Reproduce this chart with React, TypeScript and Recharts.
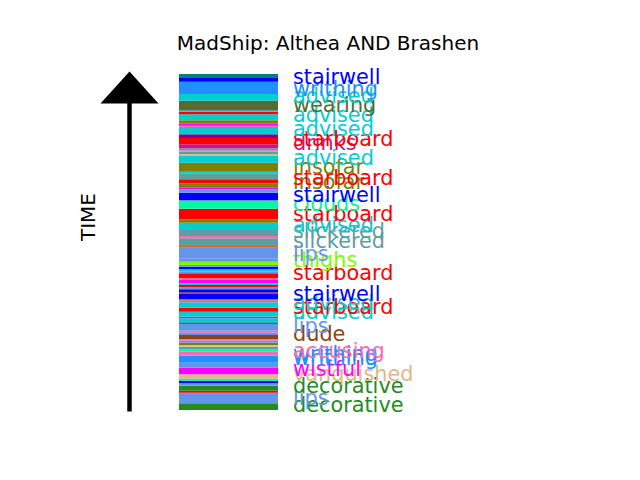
import { BarChart, Bar, XAxis, YAxis } from 'recharts'

// Stripes read from the top of the column (latest) down to the bottom (earliest)
const stripeColors = [
  '#008080', '#0000ff', '#1e90ff', '#00ced1', '#556b2f',
  '#5f9ea0', '#ff0000', '#00ced1', '#808000', '#ff00ff', '#ff69b4', '#00ced1',
  '#8b008b', '#ff0000', '#c71585',
  '#5f9ea0', '#da70d6', '#5f9ea0', '#deb887', '#00ced1',
  '#808000', '#00ced1', '#5f9ea0', '#ff0000', '#808000',
  '#ff00ff', '#6495ed', '#0000ff', '#6495ed', '#00fa9a', '#ff0000',
  '#808000', '#00ced1', '#5f9ea0', '#ff69b4', '#5f9ea0', '#d2691e', '#6495ed', '#6495ed',
  '#7cfc00', '#6495ed', '#0000ff', '#00ced1', '#6495ed', '#ff0000',
  '#ff69b4', '#ff00ff', '#00ced1', '#ff0000', '#6495ed', '#0000ff', '#a52a2a', '#0000ff',
  '#d2691e', '#6495ed', '#00ced1', '#ff0000', '#00ced1', '#ff00ff', '#00ced1', '#008b8b',
  '#6495ed', '#ff69b4', '#6495ed', '#8b4513', '#ff69b4', '#6495ed',
  '#808000', '#deb887', '#5f9ea0', '#00fa9a', '#ff69b4', '#1e90ff', '#1e90ff',
  '#6495ed', '#ff00ff', '#deb887', '#00fa9a', '#0000ff', '#6495ed',
  '#228b22', '#ff0000', '#00ced1', '#6495ed', '#228b22'
]

const stripeLengths = [
  3.3, 4.4, 12.3, 6.7, 9.3,
  1.7, 2.6, 6, 3.4, 2, 1.3, 7.3,
  3.7, 6.3, 4,
  2, 1.2, 2.5, 2, 6.7,
  9, 1.6, 6, 4, 4,
  2, 3.4, 7.3, 1.7, 7, 10.6,
  3.4, 7.3, 6, 2.3, 7.7, 1.7, 11, 3,
  3.3, 1.7, 2.3, 2.7, 1.6, 5,
  1.7, 3.3, 1.7, 2.3, 2, 3, 1.4, 5.3,
  1.7, 2, 5, 4, 5, 1.6, 4, 1.7,
  6.7, 2, 2.3, 4.3, 1.4, 2,
  2.3, 1.7, 2.6, 2.4, 4, 3.3, 3.7,
  5, 6.6, 4.4, 2, 2.6, 2.4,
  5, 2, 1.3, 9.3, 6.7
]

const stripeLabels = [
  '', 'stairwell', 'writhing', 'advised', 'wearing',
  '', '', 'advised', '', '', '', 'advised',
  '', 'starboard', 'drinks',
  '', '', '', '', 'advised',
  'insofar', '', '', 'starboard', 'insofar',
  '', '', 'stairwell', '', 'clouds', 'starboard',
  '', 'advised', 'slickered', '', 'slickered', '', 'lips', '',
  'thighs', '', '', '', '', 'starboard',
  '', '', '', '', '', '', '', 'stairwell',
  '', '', 'advised', 'starboard', 'advised', '', '', '',
  'lips', '', '', 'dude', '', '',
  '', '', '', '', 'accusing', 'writhing', 'writhing',
  '', 'wistful', 'vanquished', '', '', '',
  'decorative', '', '', 'lips', 'decorative'
]

const chartTitle = 'MadShip: Althea AND Brashen'
const axisTitle = 'TIME'

// earliest first, so the stack grows upwards like time
const order = stripeColors.map((_, i) => stripeColors.length - 1 - i)
const row: Record<string, number | string> = { name: 'events' }
order.forEach(i => {
  row[`s${i}`] = stripeLengths[i]
})
const total = stripeLengths.reduce((a, b) => a + b, 0)

const FONT = "'DejaVu Sans', sans-serif"

const wordLabel = (word: string, color: string) => (props: any) => {
  const x = Number(props.x) + Number(props.width) + 15
  const y = Math.max(Number(props.y), Number(props.y) + Number(props.height)) + 2
  return (
    <text x={x} y={y} fill={color} fontSize={20.8} fontFamily={FONT}>
      {word}
    </text>
  )
}

export default function App() {
  return (
    <div style={{ position: 'absolute', left: 0, top: 0, width: 640, height: 480, background: '#fff' }}>
      <BarChart
        width={640}
        height={480}
        data={[row]}
        margin={{ top: 74, right: 362, bottom: 70, left: 179 }}
        barCategoryGap={0}
      >
        <XAxis dataKey='name' hide />
        <YAxis type='number' hide domain={[0, total]} allowDataOverflow />
        {order.map(i => (
          <Bar
            key={i}
            dataKey={`s${i}`}
            stackId='t'
            fill={stripeColors[i]}
            isAnimationActive={false}
            label={stripeLabels[i] ? wordLabel(stripeLabels[i], stripeColors[i]) : false}
          />
        ))}
      </BarChart>
      <svg
        width={640}
        height={480}
        style={{ position: 'absolute', left: 0, top: 0, pointerEvents: 'none' }}
      >
        <text x={328} y={50} textAnchor='middle' fontSize={20} fontFamily={FONT} fill='#000'>
          {chartTitle}
        </text>
        <line x1={129.5} y1={411.5} x2={129.5} y2={102} stroke='#000' strokeWidth={4.5} />
        <polygon points='100.5,103.5 158.5,103.5 129.5,71.5' fill='#000' />
        <text
          x={88}
          y={217}
          transform='rotate(-90 88 217)'
          textAnchor='middle'
          dominantBaseline='central'
          fontSize={20}
          fontFamily={FONT}
          fill='#000'
        >
          {axisTitle}
        </text>
      </svg>
    </div>
  )
}
